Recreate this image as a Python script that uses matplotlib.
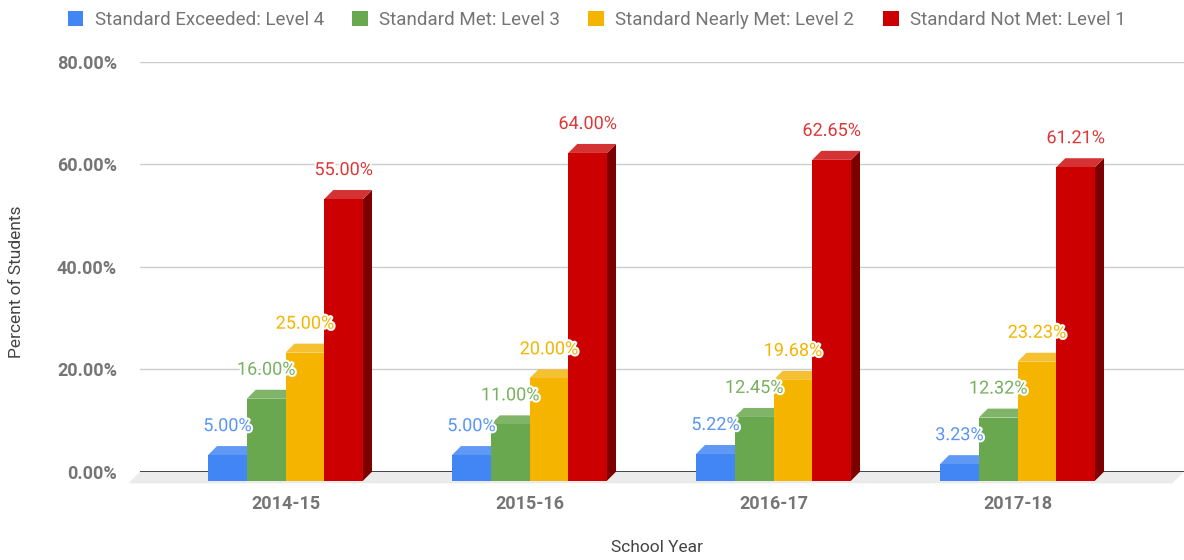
import matplotlib
matplotlib.use("Agg")
import matplotlib.pyplot as plt
import matplotlib.patheffects as pe
from matplotlib.patches import Polygon, Patch

# ────────────────────────────────────────────────
#  data
# ────────────────────────────────────────────────
years = ["2014-15", "2015-16", "2016-17", "2017-18"]
series = ["Standard Exceeded: Level 4", "Standard Met: Level 3",
          "Standard Nearly Met: Level 2", "Standard Not Met: Level 1"]
level4 = [5.00, 5.00, 5.22, 3.23]
level3 = [16.00, 11.00, 12.45, 12.32]
level2 = [25.00, 20.00, 19.68, 23.23]
level1 = [55.00, 64.00, 62.65, 61.21]
y_ticks = [0, 20, 40, 60, 80]

values = [level4, level3, level2, level1]

# front / top / side colours per series
front = ["#4285f4", "#6aa84f", "#f4b400", "#cc0000"]
top   = ["#5f98f5", "#80b569", "#f5c032", "#d53333"]
side  = ["#2e5fb3", "#4a7a37", "#b58600", "#7d0000"]
label_col = ["#5a95f5", "#78b05e", "#f4b400", "#dd3838"]

W, H, DPI = 11.84, 5.6, 100
fig = plt.figure(figsize=(W, H), dpi=DPI)
plt.rcParams['font.family'] = ['Roboto', 'DejaVu Sans']

# axes = back plane of the 3d box
ax_l, ax_r, ax_top, ax_bot = 140, 1184, 62, 471.7   # pixels
ax = fig.add_axes([ax_l / 1184, 1 - ax_bot / 560, (ax_r - ax_l) / 1184, (ax_bot - ax_top) / 560])
px_per_x = 244.0
x_first = 285.5
ax.set_xlim((ax_l - x_first) / px_per_x, (ax_r - x_first) / px_per_x)
ax.set_ylim(0, 80)
px_per_y = (ax_bot - ax_top) / 80

# depth of the 3d effect
dx = 9 / px_per_x
dy = 9 / px_per_y

bar_w = 38.75 / px_per_x
xmin, xmax = ax.get_xlim()

# floor
floor = Polygon([(xmin - 1.3 * dx, -1.3 * dy), (xmax - 1.3 * dx, -1.3 * dy), (xmax, 0), (xmin, 0)],
                closed=True, facecolor="#ebebeb", edgecolor="none", clip_on=False, zorder=1)
ax.add_patch(floor)

# gridlines + baseline
for t in y_ticks[1:]:
    ax.axhline(t, color="#cccccc", linewidth=1, zorder=0.5)
ax.axhline(0, color="#333333", linewidth=1.3, zorder=1.5)

for i, yr in enumerate(years):
    for j in range(len(series)):
        v = values[j][i]
        x0 = i + (j - 2) * bar_w
        z = 2 + j * 0.1
        # side face
        ax.add_patch(Polygon([(x0 + bar_w, -dy), (x0 + bar_w + dx, 0),
                              (x0 + bar_w + dx, v), (x0 + bar_w, v - dy)],
                             closed=True, facecolor=side[j], edgecolor="none",
                             clip_on=False, zorder=z))
        # top face
        ax.add_patch(Polygon([(x0, v - dy), (x0 + bar_w, v - dy),
                              (x0 + bar_w + dx, v), (x0 + dx, v)],
                             closed=True, facecolor=top[j], edgecolor="none",
                             clip_on=False, zorder=z))
        # front face
        ax.bar(x0, v, width=bar_w, bottom=-dy, align="edge", color=front[j],
               linewidth=0, clip_on=False, zorder=z + 0.01)
        # value label
        ax.annotate(f"{v:.2f}%", (x0 + bar_w / 2, v), xytext=(0, 20),
                    textcoords="offset pixels", ha="center", va="center",
                    fontsize=13, color=label_col[j], zorder=10,
                    path_effects=[pe.withStroke(linewidth=3, foreground="white")])

for s in ax.spines.values():
    s.set_visible(False)

ax.set_yticks(y_ticks)
ax.set_yticklabels([f"{t:.2f}%" for t in y_ticks], fontsize=13, fontweight="bold", color="#757575")
ax.set_xticks(range(len(years)))
ax.set_xticklabels(years, fontsize=13, fontweight="bold", color="#757575")
ax.tick_params(axis="y", length=0, pad=16.5)
ax.tick_params(axis="x", length=0, pad=17)

ax.set_ylabel("Percent of Students", fontsize=12.5, color="#444444")
ax.yaxis.set_label_coords((24 - ax_l) / (ax_r - ax_l), (ax_bot - 282) / (ax_bot - ax_top))
ax.set_xlabel("School Year", fontsize=12.5, color="#444444")
ax.xaxis.set_label_coords((657 - ax_l) / (ax_r - ax_l), (ax_bot - 540) / (ax_bot - ax_top))

handles = [Patch(facecolor=c, edgecolor="none", label=s) for c, s in zip(front, series)]
fig.legend(handles=handles, ncol=4, loc="center", bbox_to_anchor=(596.5 / 1184, 1 - 20 / 560),
           frameon=False, fontsize=13.5, labelcolor="#757575",
           handlelength=0.85, handleheight=0.85, handletextpad=0.6, columnspacing=1.5)

fig.savefig("out.png", dpi=DPI)
